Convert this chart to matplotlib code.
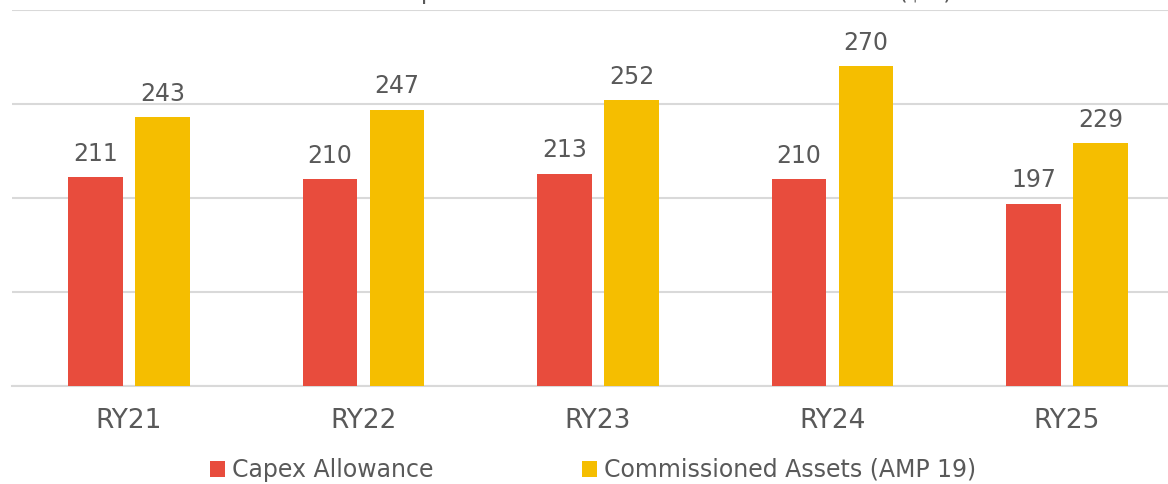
import numpy as np
import matplotlib
matplotlib.use("Agg")
import matplotlib.pyplot as plt

plt.rcParams['font.family'] = ['DejaVu Sans']

years = ["RY21", "RY22", "RY23", "RY24", "RY25"]
capex = [211, 210, 213, 210, 197]
commissioned = [243, 247, 252, 270, 229]

red = "#E84C3D"
yellow = "#F5BE00"
grey = "#595959"

fig = plt.figure(figsize=(11.68, 4.84), dpi=100)
ax = fig.add_axes([11.75 / 1168, 1 - 386 / 484, 1172.5 / 1168, 376 / 484])

x = np.arange(len(years))
w = 0.234
off = 0.143
b1 = ax.bar(x - off, capex, w, color=red, label="Capex Allowance", zorder=3)
b2 = ax.bar(x + off, commissioned, w, color=yellow, label="Commissioned Assets (AMP 19)", zorder=3)

for bars in (b1, b2):
    for b in bars:
        ax.text(b.get_x() + b.get_width() / 2, b.get_height() + 6, str(int(b.get_height())),
                ha="center", va="bottom", fontsize=17, color=grey)

ax.set_ylim(100, 300)
ax.set_xlim(-0.5, 4.5)
ax.set_yticks([100, 150, 200, 250, 300])
ax.yaxis.grid(True, color="#D9D9D9", linewidth=1.5, zorder=0)
ax.tick_params(axis="y", left=False, labelleft=False)
ax.tick_params(axis="x", length=0, labelsize=19, labelcolor=grey, pad=16)
ax.set_xticks(x)
ax.set_xticklabels(years)
for s in ["top", "right", "left"]:
    ax.spines[s].set_visible(False)
ax.spines["bottom"].set_color("#D9D9D9")
ax.spines["bottom"].set_linewidth(1.5)

# title sits mostly above the visible area, only descenders show
fig.text(952 / 1168, 1 + 1 / 484, "Capex Allowance vs Commissioned Assets ($M)",
         ha="right", va="baseline", fontsize=17, color=grey)

fig.legend(handles=[b1, b2], loc="center", bbox_to_anchor=(593 / 1168, 1 - 470 / 484),
           ncol=2, frameon=False, fontsize=17, labelcolor=grey,
           handlelength=0.64, handleheight=0.64, handletextpad=0.3, columnspacing=6.3)

fig.savefig("out.png", dpi=100)
